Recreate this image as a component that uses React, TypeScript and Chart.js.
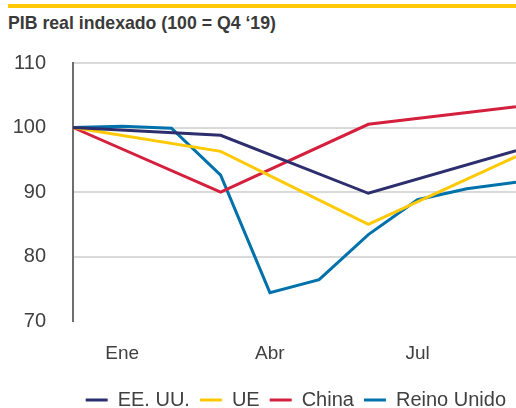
import React, { useEffect, useRef } from "react";
import { Chart, registerables } from "chart.js";

Chart.register(...registerables);

const months = ["Dic", "Ene", "Feb", "Mar", "Abr", "May", "Jun", "Jul", "Ago", "Sep"];
const shownTicks = ["Ene", "Abr", "Jul"];
const yTicks = [70, 80, 90, 100, 110];

const eeuu = [100, null, null, 98.8, null, null, 89.8, null, null, 96.4];
const ue = [100, null, null, 96.3, null, null, 85.0, null, null, 95.5];
const china = [100, null, null, 90.0, null, null, 100.5, null, null, 103.2];
const reinoUnido = [100, 100.2, 99.9, 92.6, 74.4, 76.4, 83.4, 88.8, 90.5, 91.5];

const seriesNames = ["EE. UU.", "UE", "China", "Reino Unido"];
const seriesColors = ["#2d2e6e", "#ffc905", "#d41f3d", "#0072ab"];

const FONT = "'Liberation Sans', Arial, sans-serif";

export default function App() {
  const ref = useRef<HTMLCanvasElement | null>(null);

  useEffect(() => {
    document.body.style.margin = "0";
    const canvas = ref.current;
    if (!canvas) return;
    const values = [eeuu, ue, china, reinoUnido];
    const chart = new Chart(canvas, {
      type: "line",
      data: {
        labels: months,
        datasets: values.map((d, i) => ({
          label: seriesNames[i],
          data: d,
          borderColor: seriesColors[i],
          backgroundColor: seriesColors[i],
          borderWidth: 3,
          pointRadius: 0,
          tension: 0,
          spanGaps: true,
        })),
      },
      options: {
        animation: false,
        responsive: false,
        maintainAspectRatio: false,
        layout: { padding: { top: 63, right: 0, left: 0, bottom: 0 } },
        plugins: {
          tooltip: { enabled: false },
          title: { display: false },
          legend: {
            position: "bottom",
            align: "end",
            labels: {
              usePointStyle: true,
              pointStyle: "line",
              pointStyleWidth: 22,
              boxHeight: 20,
              color: "#404040",
              font: { family: FONT, size: 20 },
              padding: 10,
            },
          },
        },
        scales: {
          x: {
            offset: false,
            afterFit: (s: any) => {
              s.height = 59;
            },
            grid: { display: false, drawTicks: true, tickLength: 21 },
            border: { display: false },
            ticks: {
              autoSkip: false,
              maxRotation: 0,
              padding: 0,
              color: "#404040",
              font: { family: FONT, size: 19 },
              callback: (_v: any, i: number) => (shownTicks.includes(months[i]) ? months[i] : ""),
            },
          },
          y: {
            min: 70,
            max: 110,
            afterFit: (s: any) => {
              s.width = 73;
            },
            afterBuildTicks: (s: any) => {
              s.ticks = yTicks.map((v) => ({ value: v }));
            },
            grid: {
              drawTicks: false,
              lineWidth: 2,
              color: (c: any) => (c.tick && c.tick.value === 70 ? "rgba(0,0,0,0)" : "#d9d9d9"),
            },
            border: { display: true, color: "#6e6e6e", width: 2 },
            ticks: {
              padding: 27,
              color: "#404040",
              font: { family: FONT, size: 20 },
            },
          },
        },
      },
    });
    return () => chart.destroy();
  }, []);

  return (
    <div style={{ position: "absolute", left: 0, top: 0, width: 516, height: 408, overflow: "hidden", background: "#fff" }}>
      <div style={{ position: "absolute", left: 8, top: 4, width: 508, height: 4, background: "#ffc905" }} />
      <div
        style={{
          position: "absolute",
          left: 8,
          top: 13,
          fontFamily: FONT,
          fontWeight: "bold",
          fontSize: 17.7,
          color: "#3a3a3a",
          whiteSpace: "nowrap",
          lineHeight: "20px",
        }}
      >
        PIB real indexado (100 = Q4 ‘19)
      </div>
      <canvas ref={ref} width={516} height={420} style={{ position: "absolute", left: 0, top: 0 }} />
    </div>
  );
}
